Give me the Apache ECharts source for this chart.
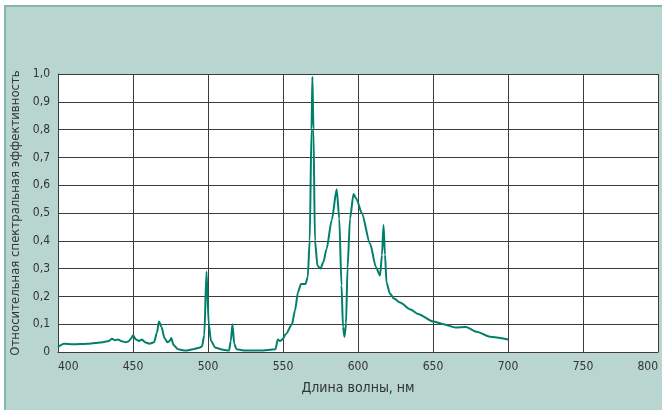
<!DOCTYPE html>
<html><head><meta charset="utf-8">
<script src="https://cdn.jsdelivr.net/npm/echarts@6/dist/echarts.min.js"></script>
<style>html,body{margin:0;padding:0;background:#fff}#c{width:662px;height:410px}</style>
</head><body><div id="c"></div>
<script>
var wavelengths = [400,404,410,420,430,434,436,438,440,442,445,447,449,450,452,454,456,458,461,464,466,467.3,469,471,473,474.5,475.5,477,480,485,490,494,496,497.5,499,500.5,502,505,510,514,515.2,516.3,517.5,519,525,535,545,546.5,548,549.5,552,556,558,560,562,565,566.5,567.8,569,569.6,570.3,571.3,573,575,577,579,582.5,585.8,587.5,589,590,591,592,593,594.7,597,599,602.5,608,612,614.7,616,617,618,619,621.3,624,628,635,640,650,657,665,672,679,688,700];
var efficiency = [0.018,0.03,0.028,0.03,0.035,0.04,0.048,0.042,0.045,0.04,0.035,0.038,0.05,0.06,0.045,0.04,0.045,0.035,0.03,0.035,0.07,0.11,0.09,0.05,0.035,0.04,0.05,0.025,0.01,0.005,0.01,0.015,0.02,0.06,0.29,0.1,0.04,0.015,0.008,0.005,0.04,0.1,0.03,0.01,0.005,0.005,0.01,0.045,0.04,0.045,0.065,0.1,0.15,0.215,0.245,0.245,0.27,0.4,0.8,0.99,0.8,0.4,0.31,0.3,0.325,0.37,0.475,0.585,0.48,0.24,0.09,0.055,0.1,0.3,0.48,0.568,0.55,0.5,0.39,0.305,0.275,0.35,0.457,0.35,0.25,0.21,0.192,0.178,0.153,0.137,0.11,0.1,0.088,0.09,0.073,0.055,0.045];
var xTicks = [400,450,500,550,600,650,700,750,800];
var yTickLabels = ['0','0,1','0,2','0,3','0,4','0,5','0,6','0,7','0,8','0,9','1,0'];
var xTitle = 'Длина волны, нм';
var yTitle = 'Относительная спектральная эффективность';

var FONT = '"Liberation Sans Narrow","DejaVu Sans Condensed","Roboto",sans-serif';
var pts = wavelengths.map(function(w,i){return [w, efficiency[i]];});
var chart = echarts.init(document.getElementById('c'), null, {renderer:'canvas'});
chart.setOption({
  backgroundColor: '#ffffff',
  animation: false,
  graphic: [{
    type: 'rect', z: -10, silent: true,
    shape: {x: 5, y: 6, width: 700, height: 450},
    style: {fill: '#b9d5cf', stroke: '#82b7aa', lineWidth: 2}
  }],
  grid: {left: 58, right: 4, top: 74, bottom: 58, show: true, backgroundColor: '#ffffff', borderWidth: 0,
    containLabel: false, outerBoundsMode: 'none'},
  xAxis: {
    type: 'value', min: 400, max: 800, interval: 50,
    name: xTitle, nameLocation: 'middle', nameGap: 29,
    nameTextStyle: {fontFamily: FONT, fontSize: 14, color: '#333'},
    axisLine: {show: true, lineStyle: {color: '#3c3c3c', width: 1}},
    axisTick: {show: false},
    axisLabel: {fontFamily: FONT, fontSize: 12, color: '#333', margin: 9, hideOverlap: false,
      alignMinLabel: 'left', alignMaxLabel: 'right',
      formatter: function(v){ return xTicks.indexOf(v) >= 0 ? String(v) : ''; }},
    splitLine: {show: true, lineStyle: {color: '#3c3c3c', width: 1}}
  },
  yAxis: {
    type: 'value', min: 0, max: 1, interval: 0.1,
    name: yTitle, nameLocation: 'middle', nameGap: 28,
    nameTextStyle: {fontFamily: FONT, fontSize: 13, color: '#333'},
    axisLine: {show: true, lineStyle: {color: '#3c3c3c', width: 1}},
    axisTick: {show: false},
    axisLabel: {fontFamily: FONT, fontSize: 12, color: '#333', margin: 8,
      formatter: function(v){ return yTickLabels[Math.round(v*10)]; }},
    splitLine: {show: true, lineStyle: {color: '#3c3c3c', width: 1}}
  },
  series: [{
    type: 'line', data: pts, showSymbol: false, smooth: 0.25, smoothMonotone: 'x',
    lineStyle: {color: '#00806a', width: 2}
  }]
});
</script></body></html>
